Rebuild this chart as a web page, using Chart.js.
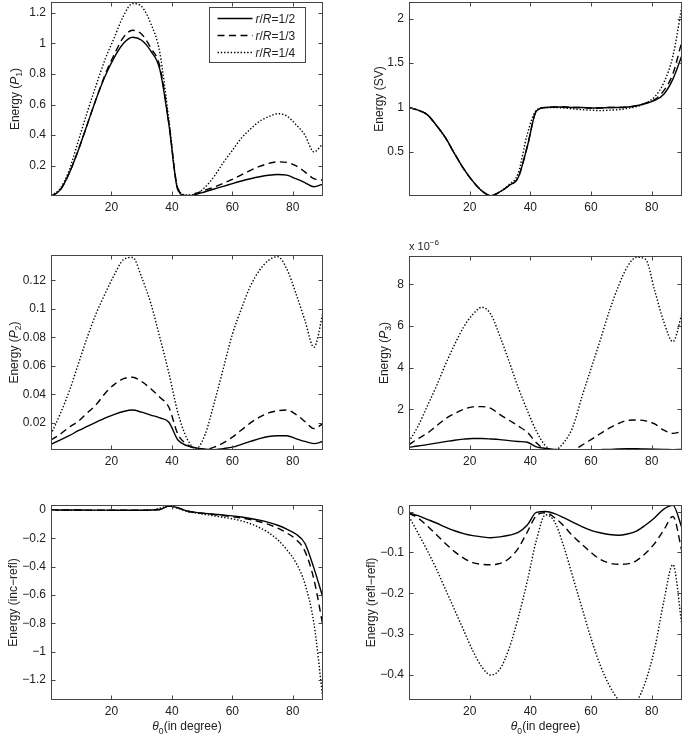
<!DOCTYPE html>
<html>
<head>
<meta charset="utf-8">
<script src="https://cdn.jsdelivr.net/npm/chart.js@4.4.1/dist/chart.umd.min.js"></script>
<style>
  body { margin: 0; background: #fff; width: 685px; height: 737px; position: relative; overflow: hidden; }
  canvas { position: absolute; }
</style>
</head>
<body>
<canvas id="c1" width="330" height="240" style="left:0px;top:0px"></canvas>
<canvas id="c2" width="340" height="240" style="left:345px;top:0px"></canvas>
<canvas id="c3" width="330" height="240" style="left:0px;top:240px"></canvas>
<canvas id="c4" width="340" height="240" style="left:345px;top:240px"></canvas>
<canvas id="c5" width="330" height="257" style="left:0px;top:480px"></canvas>
<canvas id="c6" width="340" height="257" style="left:345px;top:480px"></canvas>
<script>
// incidence angle theta_0 (degrees)
const THETA = [0,3,6,9,12,15,18,21,24,27,30,33,36,39,42,45,48,51,54,57,60,63,66,69,72,75,78,81,84,87,90]
const SERIES_LABELS = ['r/R=1/2', 'r/R=1/3', 'r/R=1/4']
const X_TICKS = [20, 40, 60, 80]

// Energy (P1)
const P1_HALF    = [0.00,0.04,0.15,0.30,0.47,0.64,0.79,0.91,1.00,1.04,1.02,0.95,0.83,0.47,0.04, 0.00,0.012,0.03,0.048,0.065,0.083,0.1,0.115,0.128,0.138,0.143,0.138,0.115,0.09,0.062,0.08]
const P1_THIRD   = [0.00,0.04,0.15,0.30,0.47,0.64,0.80,0.93,1.04,1.085,1.06,0.97,0.85,0.48,0.05, 0.005,0.02,0.04,0.06,0.085,0.11,0.14,0.17,0.195,0.215,0.225,0.222,0.2,0.16,0.115,0.105]
const P1_QUARTER = [0.005,0.05,0.17,0.36,0.55,0.73,0.90,1.04,1.18,1.26,1.24,1.13,0.94,0.5,0.05, 0.008,0.015,0.06,0.13,0.22,0.3,0.38,0.44,0.49,0.52,0.54,0.525,0.47,0.4,0.29,0.345]
const P1_TICKS = [0.2, 0.4, 0.6, 0.8, 1, 1.2]

// Energy (SV)
const SV_HALF    = [1.0,0.97,0.92,0.8,0.66,0.48,0.31,0.17,0.06,0.005,0.05,0.12,0.21,0.56,0.96, 1.0,1.005,1.005,1.0,1.0,0.995,0.995,1.0,1.0,1.005,1.02,1.045,1.08,1.15,1.32,1.59]
const SV_THIRD   = [1.0,0.97,0.92,0.8,0.66,0.48,0.31,0.17,0.06,0.005,0.05,0.12,0.21,0.56,0.96, 1.0,1.005,1.005,1.0,1.0,0.995,0.995,1.0,1.0,1.005,1.02,1.05,1.09,1.19,1.38,1.75]
const SV_QUARTER = [1.0,0.97,0.92,0.8,0.66,0.48,0.31,0.17,0.06,0.005,0.05,0.13,0.26,0.7,0.97, 1.0,1.0,0.995,0.985,0.975,0.97,0.965,0.97,0.975,0.99,1.01,1.05,1.12,1.28,1.58,2.15]
const SV_TICKS = [0.5, 1, 1.5, 2]

// Energy (P2)
const P2_HALF    = [0.005,0.008,0.011,0.0145,0.0175,0.0205,0.0235,0.026,0.028,0.029,0.0275,0.0255,0.0235,0.0205,0.008, 0.004,0.0025,0.0015,0.0012,0.002,0.003,0.005,0.007,0.009,0.0105,0.011,0.011,0.009,0.007,0.0055,0.007]
const P2_THIRD   = [0.008,0.012,0.017,0.021,0.027,0.033,0.041,0.047,0.051,0.052,0.049,0.044,0.038,0.031,0.012, 0.005,0.002,0.0015,0.003,0.006,0.01,0.015,0.02,0.024,0.027,0.0285,0.029,0.026,0.021,0.016,0.0195]
const P2_QUARTER = [0.012,0.026,0.042,0.061,0.08,0.097,0.111,0.124,0.1345,0.136,0.122,0.104,0.08,0.055,0.027, 0.009,0.002,0.012,0.034,0.058,0.082,0.1,0.116,0.127,0.134,0.1365,0.128,0.111,0.092,0.073,0.097]
const P2_TICKS = [0.02, 0.04, 0.06, 0.08, 0.1, 0.12]

// Energy (P3), in units of 1e-6
const P3_HALF    = [0.18,0.24,0.31,0.38,0.45,0.52,0.57,0.6,0.6,0.58,0.55,0.5,0.46,0.42,0.2, 0.13,0.08,0.05,0.05,0.05,0.06,0.07,0.08,0.1,0.11,0.11,0.1,0.09,0.08,0.07,0.08]
const P3_THIRD   = [0.3,0.6,0.85,1.2,1.55,1.8,2.0,2.12,2.13,2.05,1.75,1.48,1.2,0.9,0.4, 0.08,0.05,0.05,0.06,0.28,0.55,0.83,1.1,1.32,1.47,1.49,1.45,1.3,1.0,0.85,0.93]
const P3_QUARTER = [0.45,1.2,2.15,3.1,4.15,5.1,5.95,6.55,6.9,6.55,5.5,4.3,3.05,1.95,0.95, 0.25,0.05,0.4,1.15,2.6,3.95,5.3,6.7,7.9,8.85,9.3,9.2,7.7,6.2,5.25,6.6]
const P3_TICKS = [2, 4, 6, 8]

// Energy (inc-refl)
const IR_HALF    = [0,0,0,0,-0.001,-0.001,-0.001,-0.002,-0.002,-0.002,-0.002,-0.001,0.003,0.028,0.015, -0.007,-0.017,-0.024,-0.03,-0.036,-0.042,-0.05,-0.06,-0.072,-0.088,-0.108,-0.135,-0.17,-0.235,-0.41,-0.62]
const IR_THIRD   = [0,0,0,0,-0.001,-0.001,-0.001,-0.002,-0.002,-0.002,-0.002,-0.001,0.003,0.028,0.015, -0.008,-0.018,-0.026,-0.033,-0.04,-0.048,-0.057,-0.068,-0.083,-0.102,-0.128,-0.162,-0.207,-0.29,-0.49,-0.82]
const IR_QUARTER = [-0.003,-0.003,-0.003,-0.003,-0.003,-0.003,-0.003,-0.003,-0.003,-0.003,-0.003,0.0,0.012,0.027,0.012, -0.01,-0.022,-0.032,-0.042,-0.052,-0.062,-0.077,-0.097,-0.125,-0.16,-0.21,-0.28,-0.37,-0.52,-0.8,-1.34]
const IR_TICKS = [0, -0.2, -0.4, -0.6, -0.8, -1, -1.2]

// Energy (refl-refl)
const RR_HALF    = [-0.004,-0.01,-0.019,-0.028,-0.038,-0.047,-0.054,-0.059,-0.062,-0.064,-0.062,-0.058,-0.051,-0.033,-0.002, 0.0,-0.005,-0.015,-0.026,-0.037,-0.046,-0.052,-0.056,-0.058,-0.055,-0.048,-0.033,-0.015,0.006,0.015,-0.04]
const RR_THIRD   = [-0.005,-0.016,-0.035,-0.056,-0.078,-0.098,-0.114,-0.125,-0.129,-0.13,-0.127,-0.115,-0.09,-0.05,-0.01, -0.003,-0.015,-0.035,-0.06,-0.08,-0.1,-0.117,-0.126,-0.129,-0.128,-0.12,-0.102,-0.078,-0.045,-0.012,-0.098]
const RR_QUARTER = [-0.012,-0.053,-0.095,-0.14,-0.19,-0.24,-0.29,-0.34,-0.38,-0.4,-0.385,-0.335,-0.26,-0.17,-0.07, -0.008,-0.025,-0.085,-0.16,-0.235,-0.31,-0.375,-0.425,-0.46,-0.475,-0.465,-0.415,-0.335,-0.22,-0.13,-0.28]
const RR_TICKS = [0, -0.1, -0.2, -0.3, -0.4]


const FONT = '"Liberation Sans", Arial, Helvetica, sans-serif'
const LINE_STYLES = [
    { borderDash: [], borderWidth: 1.4 },
    { borderDash: [7, 4.5], borderWidth: 1.4 },
    { borderDash: [1.4, 1.9], borderWidth: 1.4 },
]

// text with italic / sub / sup pieces, like matlab's tex labels
const drawRich = (ctx, segs, x, y, size, align) => {
    let parts = segs.map(([t, st]) => {
        let sz = (st === 'sub' || st === 'sup') ? size * 0.72 : size
        ctx.font = `${st === 'i' ? 'italic ' : ''}${sz}px ${FONT}`
        return { t, st, sz, w: ctx.measureText(t).width }
    })
    let total = parts.reduce((a, p) => a + p.w, 0)
    let cx = align === 'center' ? x - total / 2 : (align === 'right' ? x - total : x)
    ctx.textAlign = 'left'
    ctx.textBaseline = 'alphabetic'
    for (let p of parts) {
        ctx.font = `${p.st === 'i' ? 'italic ' : ''}${p.sz}px ${FONT}`
        let dy = p.st === 'sub' ? size * 0.32 : (p.st === 'sup' ? -size * 0.45 : 0)
        ctx.fillText(p.t, cx, y + dy)
        cx += p.w
    }
}

// legend labels: letters in italic
const labelSegs = (label) => label.split(/([A-Za-z]+)/).filter(s => s).map(s => [s, /[A-Za-z]/.test(s) ? 'i' : ''])

const matlabFrame = {
    id: 'matlabFrame',
    afterDraw(chart, args, opts) {
        const ctx = chart.ctx
        const a = chart.chartArea
        const xs = chart.scales.x
        const ys = chart.scales.y
        ctx.save()
        // box + inward ticks
        ctx.strokeStyle = '#444'
        ctx.lineWidth = 1
        ctx.setLineDash([])
        let L = Math.round(a.left) + 0.5, R = Math.round(a.right) - 0.5
        let T = Math.round(a.top) + 0.5, B = Math.round(a.bottom) - 0.5
        ctx.strokeRect(L, T, R - L, B - T)
        ctx.beginPath()
        for (let t of xs.ticks) {
            let px = Math.round(xs.getPixelForValue(t.value)) + 0.5
            ctx.moveTo(px, B); ctx.lineTo(px, B - 4)
            ctx.moveTo(px, T); ctx.lineTo(px, T + 4)
        }
        for (let t of ys.ticks) {
            let py = Math.round(ys.getPixelForValue(t.value)) + 0.5
            ctx.moveTo(L, py); ctx.lineTo(L + 4, py)
            ctx.moveTo(R, py); ctx.lineTo(R - 4, py)
        }
        ctx.stroke()

        ctx.fillStyle = '#222'
        // y title
        ctx.save()
        ctx.translate(a.left - opts.titleOffset, (a.top + a.bottom) / 2)
        ctx.rotate(-Math.PI / 2)
        drawRich(ctx, opts.yTitle, 0, 4.5, 12, 'center')
        ctx.restore()

        if (opts.xTitle) {
            drawRich(ctx, [['θ', 'i'], ['0', 'sub'], ['(in degree)', '']], (a.left + a.right) / 2, a.bottom + 30, 12, 'center')
        }
        if (opts.exponent) {
            drawRich(ctx, [['x 10', ''], ['−6', 'sup']], a.left, a.top - 6, 11, 'left')
        }
        if (opts.legend) {
            let bx = Math.round(a.right - 114) + 0.5, by = Math.round(a.top + 5) + 0.5
            ctx.fillStyle = '#fff'
            ctx.fillRect(bx, by, 96, 55)
            ctx.strokeStyle = '#444'
            ctx.strokeRect(bx, by, 96, 55)
            chart.data.datasets.forEach((ds, i) => {
                let ry = by + 11 + i * 17
                ctx.strokeStyle = '#000'
                ctx.lineWidth = ds.borderWidth
                ctx.setLineDash(ds.borderDash)
                ctx.beginPath()
                ctx.moveTo(bx + 8, ry); ctx.lineTo(bx + 43, ry)
                ctx.stroke()
                ctx.setLineDash([])
                ctx.fillStyle = '#222'
                drawRich(ctx, labelSegs(ds.label), bx + 46, ry + 4.5, 12, 'left')
            })
        }
        ctx.restore()
    }
}

const fmtTick = (v) => String(+v.toFixed(4)).replace('-', '−')

const PANELS = [
    { id: 'c1', series: [P1_HALF, P1_THIRD, P1_QUARTER], yMin: 0.002, yMax: 1.27, yTicks: P1_TICKS,
      yWidth: 51, xHeight: 44, padTop: 2, padRight: 7,
      yTitle: [['Energy (', ''], ['P', 'i'], ['1', 'sub'], [')', '']], titleOffset: 37, legend: true },
    { id: 'c2', series: [SV_HALF, SV_THIRD, SV_QUARTER], yMin: 0.002, yMax: 2.19, yTicks: SV_TICKS,
      yWidth: 64, xHeight: 44, padTop: 2, padRight: 3,
      yTitle: [['Energy (SV)', '']], titleOffset: 31 },
    { id: 'c3', series: [P2_HALF, P2_THIRD, P2_QUARTER], yMin: 0.001, yMax: 0.1377, yTicks: P2_TICKS,
      yWidth: 51, xHeight: 30, padTop: 15, padRight: 7,
      yTitle: [['Energy (', ''], ['P', 'i'], ['2', 'sub'], [')', '']], titleOffset: 38 },
    { id: 'c4', series: [P3_HALF, P3_THIRD, P3_QUARTER], yMin: 0.05, yMax: 9.36, yTicks: P3_TICKS,
      yWidth: 64, xHeight: 30, padTop: 16, padRight: 3,
      yTitle: [['Energy (', ''], ['P', 'i'], ['3', 'sub'], [')', '']], titleOffset: 26, exponent: true },
    { id: 'c5', series: [IR_HALF, IR_THIRD, IR_QUARTER], yMin: -1.34, yMax: 0.035, yTicks: IR_TICKS,
      yWidth: 51, xHeight: 37, padTop: 25, padRight: 7,
      yTitle: [['Energy (inc−refl)', '']], titleOffset: 39, xTitle: true },
    { id: 'c6', series: [RR_HALF, RR_THIRD, RR_QUARTER], yMin: -0.461, yMax: 0.016, yTicks: RR_TICKS,
      yWidth: 64, xHeight: 37, padTop: 25, padRight: 3,
      yTitle: [['Energy (refl−refl)', '']], titleOffset: 39, xTitle: true },
]

for (let p of PANELS) {
    let datasets = p.series.map((vals, i) => ({
        label: SERIES_LABELS[i],
        data: THETA.map((x, k) => ({ x: x, y: vals[k] })),
        borderColor: '#000',
        borderWidth: LINE_STYLES[i].borderWidth,
        borderDash: LINE_STYLES[i].borderDash,
        pointRadius: 0,
        cubicInterpolationMode: 'monotone',
        fill: false,
    }))

    new Chart(document.getElementById(p.id), {
        type: 'line',
        data: { datasets: datasets },
        plugins: [matlabFrame],
        options: {
            responsive: false,
            animation: false,
            devicePixelRatio: 1,
            events: [],
            layout: { padding: { top: p.padTop, right: p.padRight, left: 0, bottom: 0 } },
            plugins: {
                legend: { display: false },
                tooltip: { enabled: false },
                matlabFrame: { yTitle: p.yTitle, titleOffset: p.titleOffset, legend: !!p.legend, xTitle: !!p.xTitle, exponent: !!p.exponent },
            },
            scales: {
                x: {
                    type: 'linear',
                    min: 0,
                    max: 90,
                    grid: { display: false, drawTicks: false },
                    border: { display: false },
                    ticks: { font: { family: FONT, size: 12 }, color: '#222', padding: 4, maxRotation: 0 },
                    afterBuildTicks: (s) => { s.ticks = X_TICKS.map(v => ({ value: v })) },
                    afterFit: (s) => { s.height = p.xHeight; s.paddingLeft = 0; s.paddingRight = 0 },
                },
                y: {
                    type: 'linear',
                    min: p.yMin,
                    max: p.yMax,
                    grid: { display: false, drawTicks: false },
                    border: { display: false },
                    ticks: { font: { family: FONT, size: 12 }, color: '#222', padding: 5, callback: fmtTick },
                    afterBuildTicks: (s) => { s.ticks = p.yTicks.map(v => ({ value: v })) },
                    afterFit: (s) => { s.width = p.yWidth; s.paddingTop = 0; s.paddingBottom = 0 },
                },
            },
        },
    })
}
</script>
</body>
</html>
